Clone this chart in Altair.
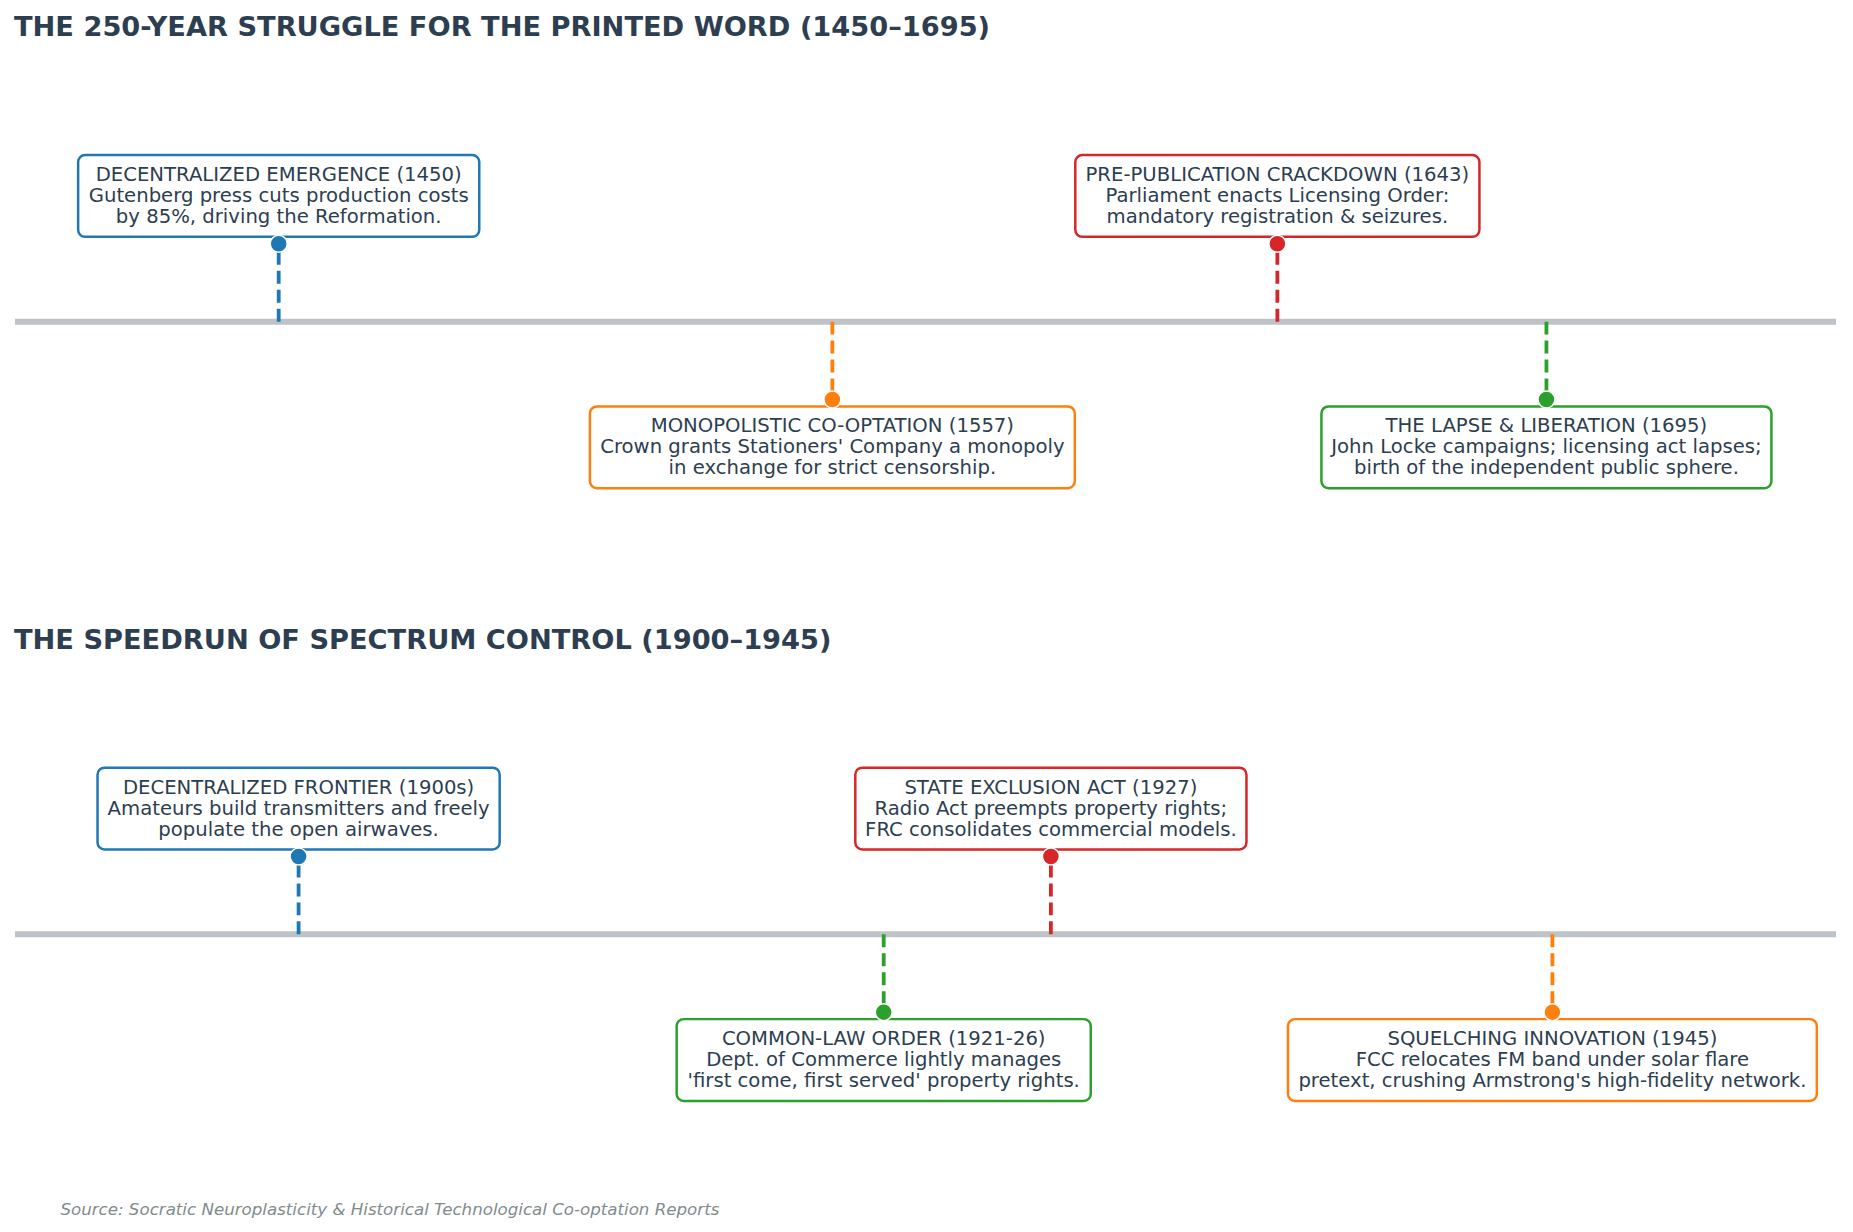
import altair as alt
import pandas as pd

FONT = "DejaVu Sans"
INK = "#2c3e50"

# --- era 1: the printing press ---
press_title = "THE 250-YEAR STRUGGLE FOR THE PRINTED WORD (1450\u20131695)"
press_span = [1400, 1750]
press_years = [1450, 1557, 1643, 1695]
press_side = [1, -1, 1, -1]
press_phase = ["decentralized", "co-opted", "state control", "open order"]
press_labels = [
    "DECENTRALIZED EMERGENCE (1450)\nGutenberg press cuts production costs\nby 85%, driving the Reformation.",
    "MONOPOLISTIC CO-OPTATION (1557)\nCrown grants Stationers' Company a monopoly\nin exchange for strict censorship.",
    "PRE-PUBLICATION CRACKDOWN (1643)\nParliament enacts Licensing Order:\nmandatory registration & seizures.",
    "THE LAPSE & LIBERATION (1695)\nJohn Locke campaigns; licensing act lapses;\nbirth of the independent public sphere.",
]

# --- era 2: radio spectrum ---
radio_title = "THE SPEEDRUN OF SPECTRUM CONTROL (1900\u20131945)"
radio_span = [1890, 1955]
radio_years = [1900, 1921, 1927, 1945]
radio_side = [1, -1, 1, -1]
radio_phase = ["decentralized", "open order", "state control", "co-opted"]
radio_labels = [
    "DECENTRALIZED FRONTIER (1900s)\nAmateurs build transmitters and freely\npopulate the open airwaves.",
    "COMMON-LAW ORDER (1921-26)\nDept. of Commerce lightly manages\n'first come, first served' property rights.",
    "STATE EXCLUSION ACT (1927)\nRadio Act preempts property rights;\nFRC consolidates commercial models.",
    "SQUELCHING INNOVATION (1945)\nFCC relocates FM band under solar flare\npretext, crushing Armstrong's high-fidelity network.",
]

source = "Source: Socratic Neuroplasticity & Historical Technological Co-optation Reports"

phase_domain = ["decentralized", "co-opted", "state control", "open order"]
phase_colors = ["#1f77b4", "#ff7f0e", "#d62728", "#2ca02c"]

# layout (pixels; y scale runs 1 unit = 1 px around the timeline)
W, H = 1825, 400
DOT, BOX_MID, BOX_HALF = 78, 126, 41
LINE_H = 21
press_box_w = [402, 486, 405, 451]
radio_box_w = [403, 415, 392, 530]


def timeline(title, span, years, side, phase, labels, box_w):
    df = pd.DataFrame({"year": years, "side": side, "phase": phase,
                       "label": labels, "box_w": box_w})
    df["base"] = 0
    df["dot"] = df["side"] * DOT
    df["mid"] = df["side"] * BOX_MID
    df["lo"] = df["mid"] - BOX_HALF
    df["hi"] = df["mid"] + BOX_HALF

    x = alt.X("year:Q", scale=alt.Scale(domain=span, nice=False, zero=False), axis=None)
    ysc = alt.Scale(domain=[-H / 2, H / 2], nice=False, zero=False)
    pal = alt.Scale(domain=phase_domain, range=phase_colors)

    line = alt.Chart(pd.DataFrame({"y": [0]})).mark_rule(
        color="#bdc3c7", strokeWidth=6
    ).encode(y=alt.Y("y:Q", scale=ysc, axis=None))

    base = alt.Chart(df)
    stems = base.mark_rule(strokeWidth=3.8, strokeDash=[13, 6]).encode(
        x=x, y=alt.Y("base:Q", scale=ysc, axis=None), y2="dot:Q",
        color=alt.Color("phase:N", scale=pal, legend=None),
    )
    boxes = base.mark_bar(orient="vertical", fill="white", strokeWidth=2.5, cornerRadius=7).encode(
        x=x, y=alt.Y("lo:Q", scale=ysc, axis=None), y2="hi:Q",
        size=alt.Size("box_w:Q", scale=None, legend=None),
        stroke=alt.Stroke("phase:N", scale=pal, legend=None),
    )
    dots = base.mark_circle(size=290, opacity=1, stroke="white", strokeWidth=1.5).encode(
        x=x, y=alt.Y("dot:Q", scale=ysc, axis=None),
        color=alt.Color("phase:N", scale=pal, legend=None),
    )
    # first line sits on the anchor, so lift the block by one line
    text = base.mark_text(
        align="center", baseline="middle", lineBreak="\n", dy=-LINE_H,
        fontSize=19.7, lineHeight=LINE_H, font=FONT, color=INK,
    ).encode(x=x, y=alt.Y("mid:Q", scale=ysc, axis=None), text="label:N")

    return alt.layer(line, stems, boxes, dots, text).properties(
        width=W, height=H,
        title=alt.TitleParams(title, anchor="start", dx=2, fontSize=27.3, font=FONT,
                              fontWeight="bold", color=INK, offset=81),
    )


press = timeline(press_title, press_span, press_years, press_side,
                 press_phase, press_labels, press_box_w)
radio = timeline(radio_title, radio_span, radio_years, radio_side,
                 radio_phase, radio_labels, radio_box_w)

chart = alt.vconcat(
    press, radio, spacing=104,
    title=alt.TitleParams(source, orient="bottom", anchor="start", dx=49, offset=68,
                          fontSize=16.7, fontStyle="italic", fontWeight="normal",
                          font=FONT, color="#7f8c8d"),
).properties(
    padding={"left": 3, "top": 4, "right": 5, "bottom": 5}
).configure_view(stroke="transparent")

chart.save("out.html", embed_options={"renderer": "svg", "actions": False})
